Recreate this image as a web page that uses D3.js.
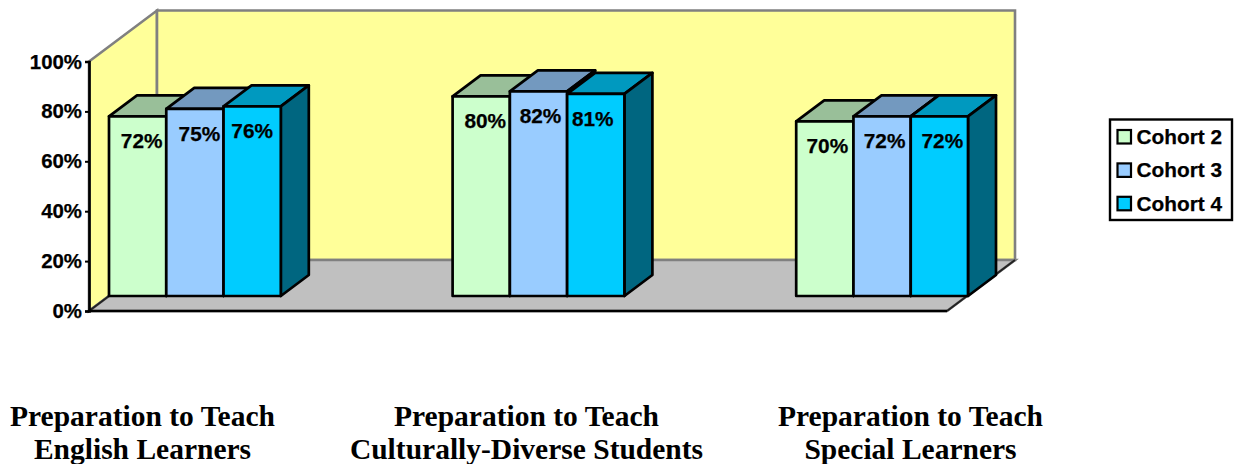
<!DOCTYPE html>
<html lang="en">
<head>
    <meta charset="UTF-8">
    <title>Preparation to Teach by Cohort</title>
    <script src="https://cdn.jsdelivr.net/npm/d3@7/dist/d3.min.js"></script>
</head>
<style>
    html, body {
        margin: 0;
        background: white;
    }

    svg {
        display: block;
    }

    .tick text, .BarLabel, .LegendText {
        font-family: "Liberation Sans", Arial, sans-serif;
        font-weight: bold;
        fill: black;
        stroke: black;
        stroke-width: 0.25px;
    }

    .tick text {
        font-size: 20.4px;
    }

    .BarLabel {
        font-size: 20.8px;
    }

    .LegendText {
        font-size: 20.8px;
    }

    .CategoryLabel {
        font-family: "Liberation Serif", "Times New Roman", serif;
        font-weight: bold;
        font-size: 29.5px;
        fill: black;
        text-anchor: middle;
    }
</style>
<body>
<script>
    var categories = ['English Learners', 'Culturally-Diverse Students', 'Special Learners'];
    var seriesNames = ['Cohort 2', 'Cohort 3', 'Cohort 4'];
    var cohort2 = [72, 80, 70];
    var cohort3 = [75, 82, 72];
    var cohort4 = [76, 81, 72];
    var yTicks = [0, 20, 40, 60, 80, 100];

    var width = 1236;
    var height = 464;

    var series = [cohort2, cohort3, cohort4];

    var faceColors = ['#CCFFCC', '#99CCFF', '#00CCFF'];
    var topColors = ['#99BF99', '#7399BF', '#0099BF'];
    var sideColors = ['#668066', '#4D6680', '#006680'];

    // oblique projection: full chart depth and the part the bars occupy
    var wallDx = 68, wallDy = -51;
    var barNearDx = 20, barNearDy = -15;
    var barDx = 28, barDy = -21;

    var axisLeft = 89, axisRight = 947;

    // hand placement of the value labels, px from each bar centre
    var labelNudge = [[4, 4.5, 0], [4, 2, -3], [2.5, 2.5, 3]];

    var svg = d3.select('body')
        .append('svg')
        .attr('width', width)
        .attr('height', height);

    var yScale = d3.scaleLinear()
        .domain([0, 100])
        .range([311, 61.5]);

    var xScale = d3.scaleBand()
        .domain(categories)
        .range([axisLeft + barNearDx, axisRight + barNearDx + 1])
        .paddingInner(0.5);

    var seriesScale = d3.scaleBand()
        .domain(seriesNames)
        .range([0, xScale.bandwidth()]);

    var labelScale = d3.scalePoint()
        .domain(categories)
        .range([142.5, 910.5]);

    function pts(list) {
        return list.map(function (p) {
            return p.join(',');
        }).join(' ');
    }

    // walls and floor
    var y0 = yScale(0), y100 = yScale(100);

    svg.append('polygon')
        .attr('points', pts([[axisLeft, y100], [axisLeft + wallDx, y100 + wallDy],
            [axisLeft + wallDx, y0 + wallDy], [axisLeft, y0]]))
        .attr('fill', '#FFFF99')
        .attr('stroke', '#808080')
        .attr('stroke-width', 2.6);

    svg.append('polygon')
        .attr('points', pts([[axisLeft + wallDx, y100 + wallDy], [axisRight + wallDx, y100 + wallDy],
            [axisRight + wallDx, y0 + wallDy], [axisLeft + wallDx, y0 + wallDy]]))
        .attr('fill', '#FFFF99')
        .attr('stroke', '#808080')
        .attr('stroke-width', 2.6);

    svg.append('polygon')
        .attr('points', pts([[axisLeft, y0], [axisLeft + wallDx, y0 + wallDy],
            [axisRight + wallDx, y0 + wallDy], [axisRight, y0]]))
        .attr('fill', '#C0C0C0')
        .attr('stroke', '#808080')
        .attr('stroke-width', 2.6);

    svg.append('line')
        .attr('x1', axisRight).attr('y1', y0)
        .attr('x2', axisRight + wallDx).attr('y2', y0 + wallDy)
        .attr('stroke', '#222')
        .attr('stroke-width', 2);

    svg.append('line')
        .attr('x1', axisLeft).attr('y1', y0)
        .attr('x2', axisLeft + barNearDx).attr('y2', y0 + barNearDy)
        .attr('stroke', '#222')
        .attr('stroke-width', 2);

    // bars, left to right so each one covers the side of its neighbour
    var bars = [];
    categories.forEach(function (c, ci) {
        seriesNames.forEach(function (s, si) {
            bars.push({category: c, ci: ci, name: s, si: si, value: series[si][ci]});
        });
    });

    var barG = svg.selectAll('.Bar')
        .data(bars)
        .enter()
        .append('g')
        .attr('class', 'Bar')
        .attr('stroke', 'black')
        .attr('stroke-width', 2.7)
        .attr('stroke-linejoin', 'round');

    function barX(d) {
        return xScale(d.category) + seriesScale(d.name);
    }

    function barTop(d) {
        return yScale(d.value) + barNearDy;
    }

    var barBase = y0 + barNearDy;

    barG.append('polygon')
        .attr('fill', function (d) {
            return topColors[d.si];
        })
        .attr('points', function (d) {
            var x = barX(d), t = barTop(d), w = seriesScale.bandwidth();
            return pts([[x, t], [x + barDx, t + barDy], [x + w + barDx, t + barDy], [x + w, t]]);
        });

    barG.append('polygon')
        .attr('fill', function (d) {
            return sideColors[d.si];
        })
        .attr('points', function (d) {
            var x = barX(d) + seriesScale.bandwidth(), t = barTop(d);
            return pts([[x, t], [x + barDx, t + barDy], [x + barDx, barBase + barDy], [x, barBase]]);
        });

    barG.append('rect')
        .attr('fill', function (d) {
            return faceColors[d.si];
        })
        .attr('x', barX)
        .attr('y', barTop)
        .attr('width', seriesScale.bandwidth())
        .attr('height', function (d) {
            return barBase - barTop(d);
        });

    svg.selectAll('.BarLabel')
        .data(bars)
        .enter()
        .append('text')
        .attr('class', 'BarLabel')
        .attr('text-anchor', 'middle')
        .attr('x', function (d) {
            return barX(d) + seriesScale.bandwidth() / 2 + labelNudge[d.ci][d.si];
        })
        .attr('y', function (d) {
            return barTop(d) + 32;
        })
        .text(function (d) {
            return d.value + '%';
        });

    // axes
    var yAxis = d3.axisLeft(yScale)
        .tickValues(yTicks)
        .tickSize(4)
        .tickPadding(3)
        .tickFormat(function (d) {
            return d + '%';
        });

    var yG = svg.append('g')
        .attr('transform', 'translate(' + axisLeft + ',0)')
        .call(yAxis);

    yG.selectAll('.domain').attr('stroke', 'black').attr('stroke-width', 2.7);
    yG.selectAll('.tick line').attr('stroke', 'black').attr('stroke-width', 2);

    svg.append('line')
        .attr('x1', axisLeft - 1).attr('y1', y0)
        .attr('x2', axisRight).attr('y2', y0)
        .attr('stroke', 'black')
        .attr('stroke-width', 2.7);

    // category captions
    var captions = svg.selectAll('.CategoryLabel')
        .data(categories)
        .enter()
        .append('text')
        .attr('class', 'CategoryLabel')
        .attr('x', function (d) {
            return labelScale(d);
        })
        .attr('y', 425.7);

    captions.append('tspan').text('Preparation to Teach');
    captions.append('tspan')
        .attr('x', function (d) {
            return labelScale(d);
        })
        .attr('dy', 33.5)
        .text(function (d) {
            return d;
        });

    // legend
    var legend = svg.append('g')
        .attr('transform', 'translate(1110,119.5)');

    legend.append('rect')
        .attr('width', 122)
        .attr('height', 100.5)
        .attr('fill', 'white')
        .attr('stroke', 'black')
        .attr('stroke-width', 2.4);

    var legendRow = legend.selectAll('.LegendRow')
        .data(seriesNames)
        .enter()
        .append('g')
        .attr('class', 'LegendRow')
        .attr('transform', function (d, i) {
            return 'translate(0,' + (i * 33.4) + ')';
        });

    legendRow.append('rect')
        .attr('x', 7.5)
        .attr('y', 10.5)
        .attr('width', 13.5)
        .attr('height', 13.5)
        .attr('fill', function (d, i) {
            return faceColors[i];
        })
        .attr('stroke', 'black')
        .attr('stroke-width', 2.2);

    legendRow.append('text')
        .attr('class', 'LegendText')
        .attr('x', 26.5)
        .attr('y', 24.5)
        .text(function (d) {
            return d;
        });
</script>

</body>
</html>
